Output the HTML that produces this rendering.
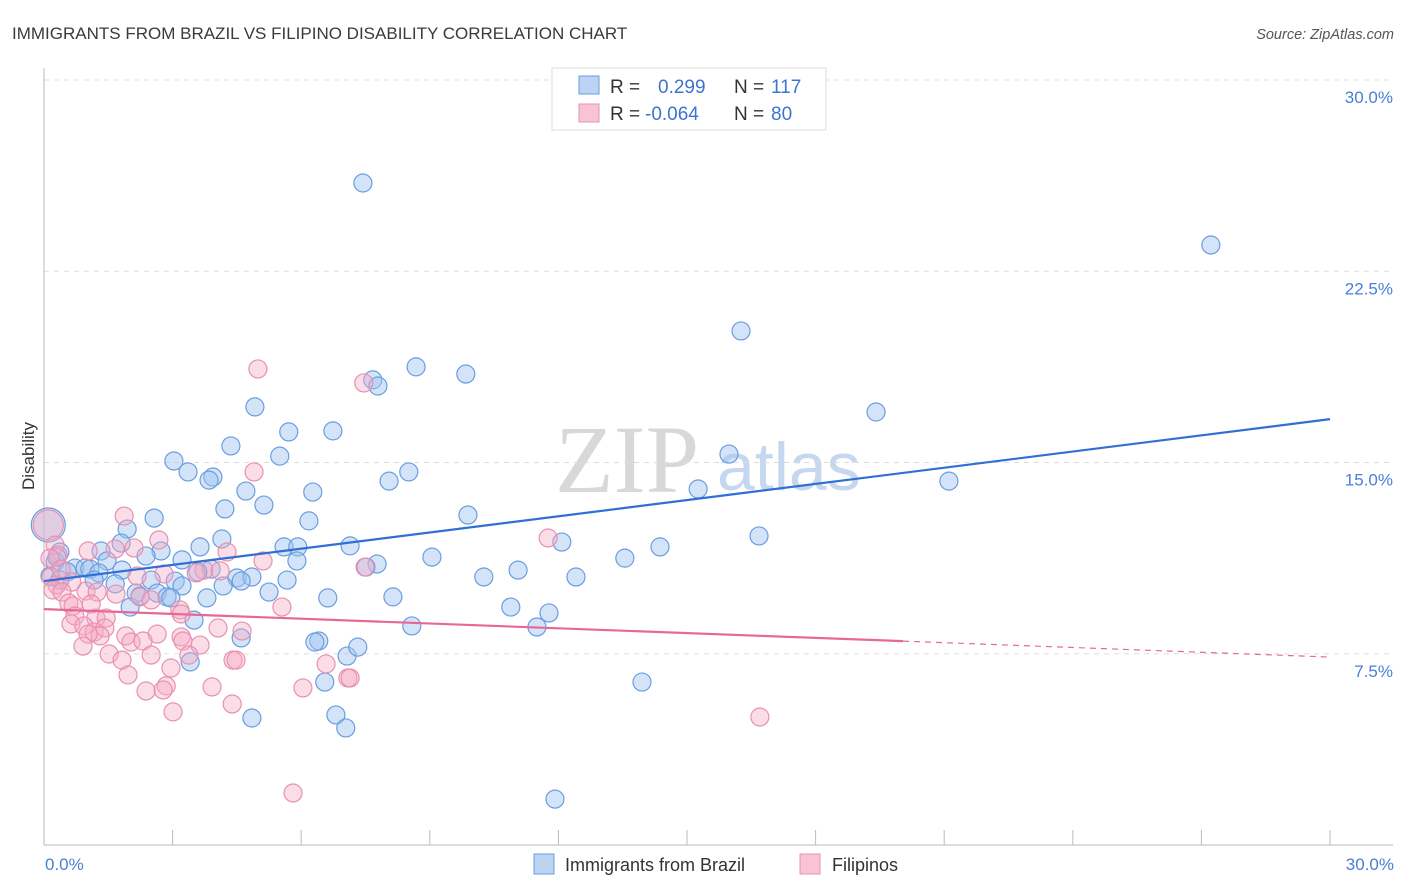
<!DOCTYPE html>
<html><head><meta charset="utf-8"><style>
body{margin:0;background:#fff;font-family:"Liberation Sans",sans-serif;}
#wrap{position:relative;width:1406px;height:892px;overflow:hidden;}
svg{position:absolute;left:0;top:0;}
</style></head><body>
<div id="wrap">
<svg id="chart" width="1406" height="892">
<text x="12" y="39" font-size="17" fill="#3a3a3a">IMMIGRANTS FROM BRAZIL VS FILIPINO DISABILITY CORRELATION CHART</text>
<text x="1394" y="39" font-size="14.5" font-style="italic" fill="#555" text-anchor="end">Source: ZipAtlas.com</text>
<text x="555" y="492" font-size="96" font-family="Liberation Serif, serif" fill="#d8d8d8">ZIP</text>
<text x="717" y="490" font-size="68" fill="#c6d8f0">atlas</text>
<g id="grid"></g>
<g id="axes"></g>
<g id="pts"></g>
<g id="trends"></g>
<text transform="translate(34,456) rotate(-90)" font-size="17" fill="#333" text-anchor="middle">Disability</text>
<text x="45" y="870" font-size="17" fill="#4a7fd4">0.0%</text>
<text x="1394" y="870" font-size="17" fill="#4a7fd4" text-anchor="end">30.0%</text>
<g>
<rect x="552" y="68" width="274" height="62" fill="#fff" stroke="#ddd"/>
<rect x="579" y="76" width="20" height="18" fill="#bcd3f3" stroke="#6a9de0"/>
<rect x="579" y="104" width="20" height="18" fill="#f8c4d4" stroke="#e890b0"/>
<text x="610" y="93" font-size="19" fill="#333">R =</text>
<text x="658" y="93" font-size="19" fill="#3d74d0">0.299</text>
<text x="734" y="93" font-size="19" fill="#333">N =</text>
<text x="771" y="93" font-size="19" fill="#3d74d0">117</text>
<text x="610" y="120" font-size="19" fill="#333">R =</text>
<text x="645" y="120" font-size="19" fill="#3d74d0">-0.064</text>
<text x="734" y="120" font-size="19" fill="#333">N =</text>
<text x="771" y="120" font-size="19" fill="#3d74d0">80</text>
</g>
<g>
<rect x="534" y="854" width="20" height="20" fill="#bcd3f3" stroke="#6a9de0"/>
<text x="565" y="871" font-size="18" fill="#333">Immigrants from Brazil</text>
<rect x="800" y="854" width="20" height="20" fill="#f8c4d4" stroke="#e890b0"/>
<text x="832" y="871" font-size="18" fill="#333">Filipinos</text>
</g>
</svg>
</div>
<script>
const yTicks=[7.5,15,22.5,30];
const yTickLabels=["7.5%","15.0%","22.5%","30.0%"];
const xTicks=[0,3,6,9,12,15,18,21,24,27,30];
const blueX=[0.1,7.44,27.22,16.26,8.68,9.84,7.67,7.79,19.41,4.92,5.71,6.74,4.36,3.03,3.36,5.5,3.94,3.85,8.51,8.05,15.98,21.11,15.26,4.71,6.27,5.13,1.94,2.57,4.22,9.89,6.18,4.15,16.68,14.37,12.08,9.05,7.14,5.6,5.92,13.55,1.8,2.73,1.33,7.77,7.51,5.9,3.64,3.22,2.38,1.47,0.37,0.26,0.72,0.96,1.07,1.28,1.17,0.54,1.82,12.41,11.06,10.26,5.67,4.5,4.85,3.9,3.59,2.5,3.06,3.22,4.18,4.6,5.25,2.64,2.15,1.66,2.87,2.96,3.8,8.14,6.62,10.89,11.78,2.01,2.24,3.5,8.58,11.5,6.41,6.32,4.6,7.07,7.32,3.41,6.55,13.95,4.85,6.81,7.04,11.92,0.3,0.14,0.37];
const blueY=[12.55,25.96,23.53,20.16,18.75,18.47,18.24,18.0,16.98,17.18,16.2,16.24,15.65,15.06,14.63,15.25,14.43,14.31,14.63,14.27,15.33,14.27,13.96,13.88,13.84,13.33,12.39,12.82,13.18,12.94,12.71,12.0,12.12,11.69,11.88,11.29,11.73,11.69,11.69,11.25,11.84,11.53,11.53,11.02,10.9,11.14,11.69,11.18,11.33,11.14,11.49,11.1,10.86,10.86,10.82,10.67,10.39,10.71,10.78,10.51,10.78,10.51,10.39,10.47,10.51,10.82,10.71,10.39,10.35,10.16,10.16,10.35,9.92,9.88,9.88,10.24,9.73,9.69,9.69,9.73,9.69,9.33,9.1,9.33,9.76,8.82,8.59,8.55,8.0,7.96,8.12,7.41,7.76,7.18,6.39,6.39,4.98,5.1,4.59,1.8,11.29,10.55,10.39];
const pinkX=[0.1,4.99,7.46,4.9,1.87,11.76,2.68,4.27,2.1,1.03,1.66,0.26,0.33,5.11,7.49,3.73,3.55,2.17,2.8,0.16,0.3,0.65,0.98,0.21,0.42,0.58,0.68,1.24,1.68,2.24,2.5,3.17,3.2,5.55,4.11,0.72,1.1,1.21,0.63,0.93,1.17,1.45,1.42,1.31,1.03,1.91,2.03,2.64,3.2,3.64,4.06,4.62,2.31,0.91,1.52,1.82,2.5,3.24,3.38,4.41,4.48,1.96,2.96,6.58,7.09,7.14,2.85,2.78,2.38,3.92,6.04,3.01,4.39,16.7,5.81,0.14,0.4];
const pinkY=[12.55,18.67,18.12,14.63,12.9,12.04,11.96,11.49,11.65,11.53,11.61,11.76,11.37,11.14,10.9,10.78,10.67,10.55,10.63,10.51,10.2,10.31,9.96,10.0,9.92,9.49,9.37,9.92,9.84,9.73,9.61,9.22,9.06,9.33,10.75,8.98,9.45,8.9,8.67,8.59,8.35,8.9,8.51,8.2,8.27,8.2,7.96,8.27,8.16,7.84,8.51,8.39,8.0,7.8,7.49,7.25,7.45,8.0,7.45,7.25,7.25,6.67,6.94,7.1,6.55,6.55,6.24,6.08,6.04,6.2,6.16,5.22,5.53,5.02,2.04,11.25,10.82];
const blueTrend=[10.35,16.7];
const pinkTrend=[9.25,7.37];
const pinkSolidEnd=20.04;

const X=v=>44+v/30*1286;
const Y=v=>845-v/30*765;
const NS="http://www.w3.org/2000/svg";
function mk(tag,attrs,parent){const e=document.createElementNS(NS,tag);for(const k in attrs)e.setAttribute(k,attrs[k]);parent.appendChild(e);return e;}
const grid=document.getElementById('grid'),axes=document.getElementById('axes'),pts=document.getElementById('pts'),tr=document.getElementById('trends');
yTicks.forEach((t,i)=>{
 const l=mk('line',{x1:44,x2:1393,y1:Y(t),y2:Y(t),stroke:'#ddd','stroke-dasharray':'5,5'},grid);
 
 
 const tx=mk('text',{x:1393,y:Y(t)+23,'font-size':17,fill:'#4a7fd4','text-anchor':'end'},grid);
 tx.textContent=yTickLabels[i];
 
 
});
const ax=mk('line',{x1:44,x2:44,y1:68,y2:845,stroke:'#bbb'},axes);


const bx=mk('line',{x1:44,x2:1393,y1:845,y2:845,stroke:'#bbb'},axes);


xTicks.forEach(t=>{
 const l=mk('line',{x1:X(t),x2:X(t),y1:830,y2:845,stroke:'#bbb'},axes);
 
 
});
blueX.forEach((v,i)=>{
 const c=mk('circle',{cx:X(v),cy:Y(blueY[i]),r:i===0?17:9,fill:'rgba(160,195,240,0.45)',stroke:'#6a9de0','stroke-width':1.2},pts);
 
 
});
pinkX.forEach((v,i)=>{
 const c=mk('circle',{cx:X(v),cy:Y(pinkY[i]),r:i===0?15:9,fill:'rgba(245,170,195,0.4)',stroke:'#e890b0','stroke-width':1.2},pts);
 
 
});
const bl=mk('line',{x1:X(0),y1:Y(blueTrend[0]),x2:X(30),y2:Y(blueTrend[1]),stroke:'#2f6fd6','stroke-width':2.2},tr);


const pm=v=>pinkTrend[0]+(pinkTrend[1]-pinkTrend[0])*v/30;
const pl=mk('line',{x1:X(0),y1:Y(pinkTrend[0]),x2:X(pinkSolidEnd),y2:Y(pm(pinkSolidEnd)),stroke:'#e8679a','stroke-width':2.2},tr);


const pd=mk('line',{x1:X(pinkSolidEnd),y1:Y(pm(pinkSolidEnd)),x2:X(30),y2:Y(pinkTrend[1]),stroke:'#e8679a','stroke-width':1.2,'stroke-dasharray':'6,5'},tr);


</script>
</body></html>
